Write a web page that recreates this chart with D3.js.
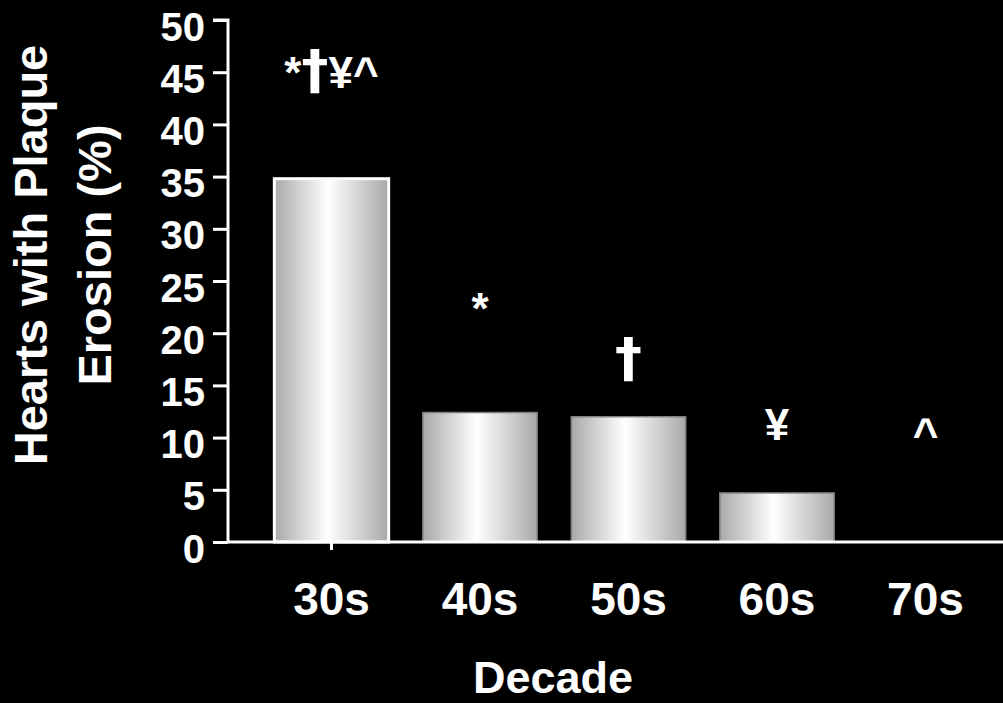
<!DOCTYPE html>
<html lang="en">
<head>
  <meta charset="UTF-8">
  <title>Hearts with Plaque Erosion</title>
  <script src="https://d3js.org/d3.v7.min.js"></script>
  <style>
    html, body { margin: 0; padding: 0; background: #000; }
    svg { display: block; font-family: "Liberation Sans", Arial, sans-serif; font-weight: bold; }
  </style>
</head>
<body>
  <script>
    // Data
    const decades = ['30s', '40s', '50s', '60s', '70s'];
    const erosion = [34.8, 12.4, 12.0, 4.7, 0];
    const marks = ['*†¥^', '*', '†', '¥', '^'];
    const markLevels = [43.5, 20.9, 15.9, 9.8, 8.9]; // baseline, in % units
    const yTicks = [0, 5, 10, 15, 20, 25, 30, 35, 40, 45, 50];

    const width = 1003, height = 703;
    const svg = d3.select('body').append('svg')
      .attr('width', width)
      .attr('height', height);

    const defs = svg.append('defs');
    const grad = defs.append('linearGradient')
      .attr('id', 'barGrad')
      .attr('x1', '0%').attr('x2', '100%')
      .attr('y1', '0%').attr('y2', '0%');
    grad.append('stop').attr('offset', '0%').attr('stop-color', '#a9a9a9');
    grad.append('stop').attr('offset', '47%').attr('stop-color', '#ffffff');
    grad.append('stop').attr('offset', '100%').attr('stop-color', '#a9a9a9');

    const x = d3.scaleBand()
      .domain(decades)
      .range([258, 999])
      .paddingInner(0.23)
      .paddingOuter(0.11);

    const y = d3.scaleLinear()
      .domain([0, 50])
      .range([542, 20]);

    // Bars
    svg.selectAll('rect.bar')
      .data(decades.filter((d, i) => erosion[i] > 0))
      .join('rect')
      .attr('class', 'bar')
      .attr('x', d => x(d))
      .attr('width', x.bandwidth())
      .attr('y', d => y(erosion[decades.indexOf(d)]))
      .attr('height', d => y(0) - y(erosion[decades.indexOf(d)]))
      .attr('fill', 'url(#barGrad)')
      .attr('stroke', (d, i) => i === 0 ? '#ffffff' : '#808080')
      .attr('stroke-width', (d, i) => i === 0 ? 3 : 1.5);

    // Y axis
    const yAxis = svg.append('g')
      .attr('transform', 'translate(228,0)')
      .call(d3.axisLeft(y).tickValues(yTicks).tickSize(15).tickPadding(8));
    yAxis.select('.domain')
      .attr('stroke', '#fff').attr('stroke-width', 3)
      .attr('d', `M-15,${y(50)}H0V${y(0)}`);
    yAxis.selectAll('.tick line').attr('stroke', '#fff').attr('stroke-width', 3);
    yAxis.selectAll('.tick text')
      .attr('fill', '#fff')
      .attr('font-size', 40)
      .attr('font-family', '"Liberation Sans", Arial, sans-serif')
      .attr('font-weight', 'bold')
      .attr('dy', '0.5em');

    // X axis
    const xAxis = svg.append('g')
      .attr('transform', `translate(0,${y(0)})`)
      .call(d3.axisBottom(x).tickSize(0).tickPadding(40));
    xAxis.select('.domain')
      .attr('stroke', '#fff').attr('stroke-width', 3)
      .attr('d', `M228,0H${width}`);
    xAxis.selectAll('.tick text')
      .attr('fill', '#fff')
      .attr('font-size', 46)
      .attr('font-family', '"Liberation Sans", Arial, sans-serif')
      .attr('font-weight', 'bold');
    // single small tick under first category
    xAxis.append('line')
      .attr('x1', x(decades[0]) + x.bandwidth() / 2)
      .attr('x2', x(decades[0]) + x.bandwidth() / 2)
      .attr('y1', 0).attr('y2', 8)
      .attr('stroke', '#fff').attr('stroke-width', 3);

    // Significance marks (dagger drawn in a heavier face)
    svg.selectAll('text.mark')
      .data(marks)
      .join('text')
      .attr('class', 'mark')
      .attr('x', (d, i) => x(decades[i]) + x.bandwidth() / 2)
      .attr('y', (d, i) => y(markLevels[i]))
      .attr('text-anchor', 'middle')
      .attr('fill', '#fff')
      .attr('font-size', 44)
      .each(function (d) {
        const t = d3.select(this);
        Array.from(d).forEach(ch => {
          const s = t.append('tspan').text(ch);
          if (ch === '†') s.attr('font-family', '"DejaVu Sans", sans-serif').attr('font-size', 54);
        });
      });

    // Axis titles
    svg.append('text')
      .attr('x', 553)
      .attr('y', 693)
      .attr('text-anchor', 'middle')
      .attr('fill', '#fff')
      .attr('font-size', 45)
      .text('Decade');

    const yTitle = svg.append('text')
      .attr('transform', 'translate(0,255) rotate(-90)')
      .attr('text-anchor', 'middle')
      .attr('fill', '#fff')
      .attr('font-size', 47);
    yTitle.append('tspan').attr('x', 0).attr('y', 47).text('Hearts with Plaque');
    yTitle.append('tspan').attr('x', 0).attr('y', 111).text('Erosion (%)');
  </script>
</body>
</html>
